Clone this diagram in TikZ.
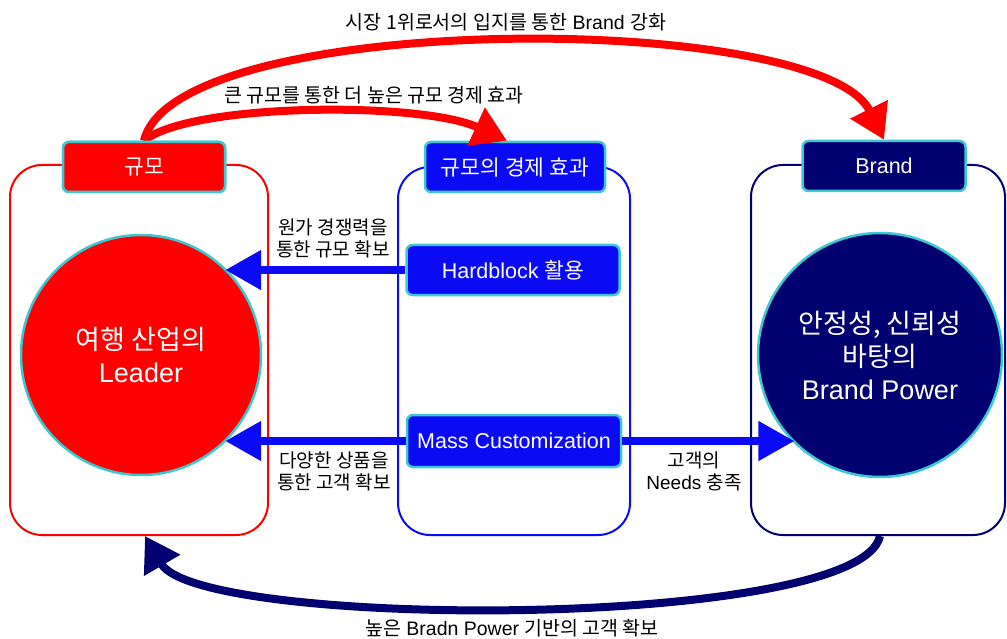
\documentclass[tikz,border=0pt]{standalone}
\usepackage{fontspec}
\setmainfont{Liberation Sans}
\newfontfamily\kr{Noto Sans CJK KR}
\usetikzlibrary{arrows.meta}
\definecolor{cred}{HTML}{FF0000}
\definecolor{cblue}{HTML}{0A0AF5}
\definecolor{cnavy}{HTML}{000070}
\definecolor{ccyan}{HTML}{3CC8D2}
\tikzset{
  bigbox/.style={draw=#1, line width=2pt, rounded corners=32pt, inner sep=0pt},
  tagbox/.style={fill=#1, draw=ccyan, line width=2.5pt, rounded corners=6pt, text=white, inner sep=0pt, minimum height=50pt, font=\fontsize{21.5}{24}\selectfont},
  bigcirc/.style={circle, fill=#1, draw=ccyan, line width=2.5pt, text=white, inner sep=0pt, align=center, font=\fontsize{27}{33}\selectfont},
  lbl/.style={align=center, inner sep=0pt, font=\fontsize{19}{22}\selectfont},
  toplbl/.style={inner sep=0pt, font=\fontsize{19.5}{22}\selectfont},
  bluearrow/.style={draw=cblue, line width=8pt, -{Triangle[width=38pt,length=36pt]}},
  arcarrow/.style={draw=#1, line width=8pt, -{Triangle[width=40pt,length=34pt]}}
}
\begin{document}
\begin{tikzpicture}[x=1pt,y=-1pt]
\useasboundingbox (0,0) rectangle (1007,639);
% big boxes
\node[bigbox=cred, minimum width=258pt, minimum height=370pt] (lbox) at (139,350) {};
\node[bigbox=cblue, minimum width=232pt, minimum height=368pt] (mbox) at (514,351) {};
\node[bigbox=cnavy, minimum width=254pt, minimum height=370pt] (rbox) at (878,350) {};
% tag boxes
\node[tagbox=cblue, minimum width=180pt] (ge) at (515,167) {\kr 규모의 경제 효과};
\node[tagbox=cnavy, minimum width=163pt] (br) at (884,166) {Brand};
% circles
\node[bigcirc=cred, minimum size=240pt] (lc) at (141,355) {{\kr 여행 산업의}\\Leader};
\node[bigcirc=cnavy, minimum size=244pt] (nc) at (880,355) {{\kr 안정성, 신뢰성}\\{\kr 바탕의}\\Brand Power};
% inner boxes
\node[tagbox=cblue, minimum width=213pt] (hb) at (513,270) {Hardblock {\kr 활용}};
\node[tagbox=cblue, minimum width=214pt, minimum height=52pt] (mc) at (514,441) {Mass Customization};
% blue arrows
\draw[bluearrow] (hb.west) -- (hb.west -| lc.46);
\draw[bluearrow] (mc.west) -- (mc.west -| lc.-46);
\draw[bluearrow] (mc.east) -- (mc.east -| nc.226);
% arcs
\node[tagbox=cred, minimum width=162pt] (gm) at (144,167) {\kr 규모};
\coordinate (smallend) at ([xshift=-8pt]ge.north);
\coordinate (navyend) at ([xshift=6pt]lbox.south);
\coordinate (navystart) at (rbox.south -| nc.south);
\draw[arcarrow=cred] (gm.north) .. controls (175,10) and (820,10) .. (br.north);
\draw[arcarrow=cred] (gm.north) .. controls (190,103) and (420,101) .. (smallend);
\draw[arcarrow=cnavy] (navystart) .. controls (860,630) and (200,630) .. (navyend);
\node[tagbox=cred, minimum width=162pt] at (gm) {\kr 규모};
% labels
\node[toplbl] (t1) at (506,22) {{\kr 시장 1위로서의 입지를 통한} Brand {\kr 강화}};
\node[toplbl] (t2) at (374,95) {\kr 큰 규모를 통한 더 높은 규모 경제 효과};
\node[toplbl] (t3) at (512,628) {{\kr 높은} Bradn Power {\kr 기반의 고객 확보}};
\node[lbl] (l1) at (333,238) {\kr 원가 경쟁력을\\\kr 통한 규모 확보};
\node[lbl] (l2) at (334,471) {\kr 다양한 상품을\\\kr 통한 고객 확보};
\node[lbl] (l3) at (694,471) {{\kr 고객의}\\Needs {\kr 충족}};
\end{tikzpicture}
\end{document}
